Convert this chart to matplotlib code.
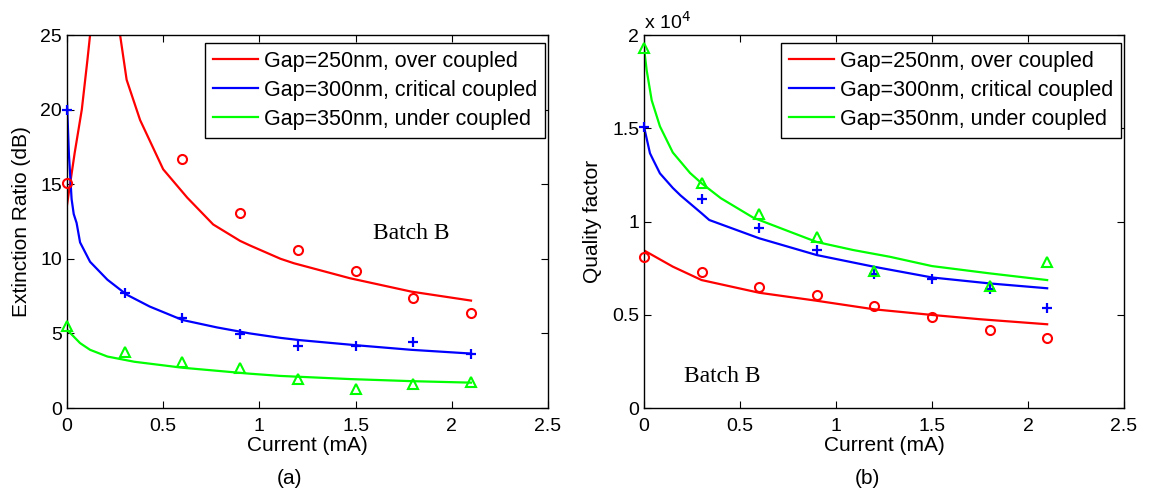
import numpy as np
import matplotlib
matplotlib.use("Agg")
import matplotlib.pyplot as plt
from matplotlib import ticker

plt.rcParams['font.family'] = ['Liberation Sans', 'DejaVu Sans']

# measured points (current in mA)
current = [0, 0.3, 0.6, 0.9, 1.2, 1.5, 1.8, 2.1]
labels = ['Gap=250nm, over coupled', 'Gap=300nm, critical coupled', 'Gap=350nm, under coupled']

# (a) extinction ratio, dB
er_250 = [15.1, np.nan, 16.7, 13.1, 10.6, 9.2, 7.35, 6.4]
er_300 = [20.0, 7.7, 6.05, 4.96, 4.18, 4.16, 4.42, 3.62]
er_350 = [5.5, 3.78, 3.1, 2.65, 1.92, 1.25, 1.59, 1.77]

# (a) fitted curves
fit_er_250_x = [0, 0.016, 0.04, 0.077, 0.106, 0.12, 0.14, 0.2, 0.26, 0.276, 0.31, 0.38, 0.5,
                0.625, 0.76, 0.9, 0.95, 1.11, 1.18, 1.47, 1.79, 2.1]
fit_er_250_y = [13.6, 15.0, 17.1, 20.0, 23.3, 25.0, 28.0, 60.0, 28.0, 25.0, 22.0, 19.3, 16.0,
                14.1, 12.3, 11.2, 10.9, 10.0, 9.7, 8.7, 7.8, 7.2]
fit_er_300_x = [0, 0.01, 0.024, 0.035, 0.05, 0.068, 0.12, 0.21, 0.31, 0.43, 0.6, 0.78, 0.95,
                1.11, 1.21, 1.51, 1.79, 2.1]
fit_er_300_y = [20.5, 17.0, 14.0, 13.0, 12.4, 11.1, 9.8, 8.6, 7.6, 6.8, 5.9, 5.4, 5.0,
                4.7, 4.55, 4.2, 3.9, 3.65]
fit_er_350_x = [0, 0.068, 0.12, 0.21, 0.35, 0.6, 0.95, 1.11, 1.47, 1.79, 2.1]
fit_er_350_y = [5.25, 4.35, 3.9, 3.45, 3.1, 2.7, 2.3, 2.15, 1.94, 1.8, 1.7]

# (b) quality factor
q_250 = [8110, 7280, 6500, 6040, 5470, 4900, 4180, 3770]
q_300 = [15080, 11200, 9670, 8470, 7200, 6920, 6380, 5380]
q_350 = [19300, 12050, 10380, 9150, 7360, np.nan, 6560, 7850]

fit_q_250_x = [0, 0.15, 0.3, 0.6, 0.9, 1.2, 1.5, 1.75, 2.1]
fit_q_250_y = [8450, 7580, 6860, 6180, 5750, 5290, 4990, 4760, 4490]
fit_q_300_x = [0, 0.031, 0.048, 0.083, 0.15, 0.19, 0.3, 0.34, 0.6, 0.9, 1.2, 1.5, 1.8, 2.1]
fit_q_300_y = [15080, 13660, 13300, 12580, 11800, 11400, 10440, 10080, 9100, 8200, 7570, 7000, 6680, 6420]
fit_q_350_x = [0, 0.014, 0.04, 0.083, 0.15, 0.24, 0.3, 0.4, 0.57, 0.76, 0.9, 1.09, 1.28, 1.5, 1.8, 2.1]
fit_q_350_y = [19300, 18100, 16500, 15100, 13700, 12600, 12050, 11250, 10200, 9450, 8900, 8470, 8110,
               7610, 7220, 6860]

colors = [(1, 0, 0), (0, 0, 1), (0, 1, 0)]
markers = ['o', '+', '^']

fig = plt.figure(figsize=(11.49, 4.93), dpi=100)
ax1 = fig.add_axes([0.0583, 0.1724, 0.4186, 0.7566])
ax2 = fig.add_axes([0.5605, 0.1724, 0.4177, 0.7566])


def draw(ax, fits, meas):
    lines = []
    for (fx, fy), my, c, m in zip(fits, meas, colors, markers):
        ln, = ax.plot(fx, fy, color=c, lw=1.6)
        lines.append(ln)
        # markers are not clipped at the axes edge (matlab style)
        if m == '+':
            ax.plot(current, my, ls='none', marker=m, ms=7, mew=1.6, color=c, clip_on=False, zorder=3)
        else:
            ax.plot(current, my, ls='none', marker=m, ms=6.5, mew=1.5, mfc='none', mec=c,
                    clip_on=False, zorder=3)
    ax.set_xlim(0, 2.5)
    ax.set_xticks([0, 0.5, 1, 1.5, 2, 2.5])
    ax.xaxis.set_major_formatter(ticker.FuncFormatter(lambda v, p: '%g' % v))
    ax.tick_params(direction='in', top=True, right=True, length=5, labelsize=14, width=0.8)
    ax.tick_params(axis='x', pad=7)
    for s in ax.spines.values():
        s.set_linewidth(1.0)
    ax.set_xlabel('Current (mA)', fontsize=15, labelpad=1)
    leg = ax.legend(lines, labels, loc='upper right', bbox_to_anchor=(0.994, 0.979),
                    borderaxespad=0, fancybox=False, edgecolor='black', fontsize=15.5,
                    handlelength=2.1, handletextpad=0.25, labelspacing=0.36,
                    borderpad=0.38, framealpha=1)
    leg.get_frame().set_linewidth(1.0)


draw(ax1, [(fit_er_250_x, fit_er_250_y), (fit_er_300_x, fit_er_300_y), (fit_er_350_x, fit_er_350_y)],
     [er_250, er_300, er_350])
ax1.set_ylim(0, 25)
ax1.set_yticks([0, 5, 10, 15, 20, 25])
ax1.set_ylabel('Extinction Ratio (dB)', fontsize=15, labelpad=7)
ax1.text(1.79, 11.7, 'Batch B', family='Liberation Serif', fontsize=17, ha='center', va='center')

draw(ax2, [(fit_q_250_x, fit_q_250_y), (fit_q_300_x, fit_q_300_y), (fit_q_350_x, fit_q_350_y)],
     [q_250, q_300, q_350])
ax2.set_ylim(0, 20000)
ax2.set_yticks([0, 5000, 10000, 15000, 20000])
ax2.yaxis.set_major_formatter(ticker.FuncFormatter(lambda v, p: '%g' % (v / 1e4)))
ax2.set_ylabel('Quality factor', fontsize=15, labelpad=7)
ax2.text(0.41, 1700, 'Batch B', family='Liberation Serif', fontsize=17, ha='center', va='center')
ax2.text(0.0, 1.005, r'x 10$^{4}$', transform=ax2.transAxes, fontsize=14, ha='left', va='bottom')

fig.text(289 / 1149, 1 - 478 / 493, '(a)', fontsize=15, ha='center', va='center')
fig.text(867 / 1149, 1 - 478 / 493, '(b)', fontsize=15, ha='center', va='center')

fig.savefig('out.png', dpi=100)
